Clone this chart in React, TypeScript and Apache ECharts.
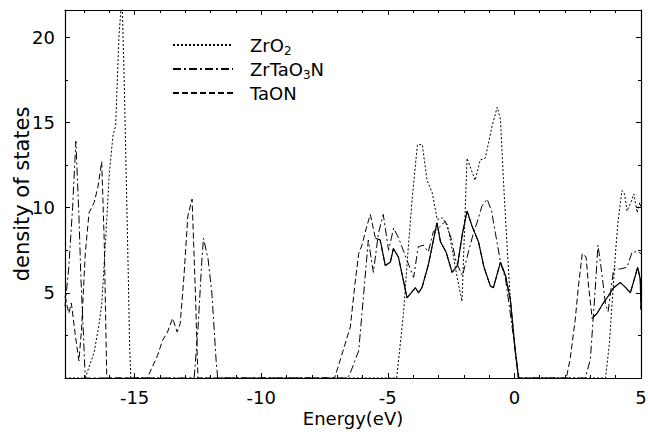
import React, { useEffect, useRef } from 'react';
import * as echarts from 'echarts';

const seriesNames = ['ZrO2', 'ZrTaO3N', 'TaON'];
const xLabelTicks = [-15, -10, -5, 0, 5];
const yLabelTicks = [5, 10, 15, 20];

// ZrO2 (dotted)
const zro2: number[][] = [
  [-17.75, 0], [-16.95, 0], [-16.6, 1.5], [-16.4, 3.2], [-16.3, 4.3], [-16.15, 8], [-16.0, 12], [-15.85, 14.3],
  [-15.75, 14.8], [-15.62, 20], [-15.5, 22.5], [-15.42, 18], [-15.32, 11], [-15.25, 6], [-15.2, 2], [-15.15, 0],
  [-4.65, 0], [-4.38, 3.8], [-4.2, 7.5], [-4.04, 10.5], [-3.83, 13.7], [-3.64, 13.7], [-3.45, 11.6], [-3.25, 10.9],
  [-3.05, 9.3], [-2.85, 9.4], [-2.65, 9.0], [-2.45, 7.5], [-2.26, 5.9], [-2.07, 4.5], [-1.87, 12.9], [-1.55, 11.6],
  [-1.35, 12.8], [-1.15, 12.9], [-0.88, 14.8], [-0.68, 15.9], [-0.55, 15.2], [-0.43, 11.5], [-0.28, 7.5],
  [-0.16, 4.6], [-0.04, 2.6], [0.16, 0],
  [3.6, 0], [3.75, 2], [3.86, 4.4], [4.0, 7.5], [4.1, 9.3], [4.25, 11.0], [4.35, 10.8], [4.45, 9.8], [4.6, 10.3],
  [4.72, 10.8], [4.85, 9.7], [4.95, 10.3], [5.0, 10.0],
];

// ZrTaO3N (dash-dot)
const zrtao3n: number[][] = [
  [-17.75, 4.2], [-17.6, 6.5], [-17.45, 10], [-17.32, 13.9], [-17.2, 9.5], [-17.12, 5.8], [-17.02, 2.5], [-16.95, 0],
  [-12.65, 0], [-12.5, 2.8], [-12.35, 6.8], [-12.28, 8.2], [-12.1, 7.0], [-11.95, 5.0], [-11.78, 1.0], [-11.72, 0],
  [-6.6, 0], [-6.48, 0.3], [-6.15, 1.6], [-5.95, 5.0], [-5.77, 8.1], [-5.57, 6.2], [-5.37, 8.5], [-5.18, 9.6],
  [-4.97, 7.5], [-4.77, 8.8], [-4.57, 8.2], [-4.24, 6.9], [-3.98, 5.9], [-3.8, 7.7], [-3.6, 7.8], [-3.4, 7.4],
  [-3.2, 8.6], [-3.0, 8.8], [-2.73, 9.2], [-2.5, 8.2], [-2.3, 6.8], [-2.05, 6.0], [-1.8, 7.5], [-1.6, 8.6],
  [-1.48, 9.1], [-1.28, 10.1], [-1.08, 10.5], [-0.9, 9.8], [-0.75, 8.5], [-0.55, 6.8], [-0.35, 5.8], [-0.2, 4.2],
  [0.0, 2.0], [0.18, 0],
  [2.8, 0], [3.0, 1.1], [3.2, 5.4], [3.3, 7.8], [3.45, 6.2], [3.6, 4.3], [3.7, 3.9], [3.92, 6.4], [4.19, 6.4],
  [4.45, 6.5], [4.65, 7.4], [4.9, 7.4], [5.0, 7.3],
];

// TaON (dashed)
const taon: number[][] = [
  [-17.75, 4.8], [-17.6, 3.8], [-17.5, 4.4], [-17.35, 2.6], [-17.2, 1.0], [-17.1, 2.8], [-16.95, 7.3], [-16.8, 9.7],
  [-16.6, 10.3], [-16.45, 11.2], [-16.3, 12.7], [-16.2, 8], [-16.1, 0],
  [-14.5, 0], [-14.1, 1.3], [-13.9, 2.2], [-13.7, 2.7], [-13.5, 3.5], [-13.32, 2.7], [-13.2, 3.2], [-13.05, 6],
  [-12.9, 9.5], [-12.73, 10.5], [-12.6, 5], [-12.5, 0],
  [-7.1, 0], [-6.88, 1.06], [-6.48, 3.0], [-6.3, 5.5], [-6.15, 7.3], [-6.02, 7.8], [-5.85, 8.8], [-5.69, 9.6],
  [-5.49, 8.2], [-5.3, 8.1], [-5.1, 6.6], [-4.9, 6.8], [-4.78, 7.6], [-4.58, 7.1], [-4.24, 4.7], [-3.91, 5.3],
  [-3.79, 5.0], [-3.65, 5.3], [-3.39, 6.7], [-3.06, 9.1], [-2.92, 8.0], [-2.7, 7.4], [-2.46, 6.2], [-2.25, 6.6],
  [-2.05, 8.5], [-1.87, 9.8], [-1.67, 8.9], [-1.42, 8.0], [-1.2, 6.5], [-0.95, 5.4], [-0.83, 5.3], [-0.55, 6.8],
  [-0.35, 6.0], [-0.16, 4.6], [0.04, 1.5], [0.16, 0],
  [2.05, 0], [2.2, 1.1], [2.4, 3.4], [2.53, 5.4], [2.68, 7.3], [2.83, 7.1], [2.93, 5.4], [3.07, 3.5], [3.27, 3.8],
  [3.47, 4.3], [3.7, 4.8], [3.92, 5.3], [4.19, 5.6], [4.4, 5.3], [4.58, 5.0], [4.87, 6.5], [4.97, 5.8], [5.0, 4.0],
];

// unlabelled solid curve (valence band and conduction band parts)
const solidValence: number[][] = [
  [-5.49, 8.2], [-5.3, 8.1], [-5.1, 6.6], [-4.9, 6.8], [-4.78, 7.6], [-4.58, 7.1], [-4.24, 4.7], [-3.91, 5.3],
  [-3.79, 5.0], [-3.65, 5.3], [-3.39, 6.7], [-3.06, 9.1], [-2.92, 8.0], [-2.7, 7.4], [-2.46, 6.2], [-2.25, 6.6],
  [-2.05, 8.5], [-1.87, 9.8], [-1.67, 8.9], [-1.42, 8.0], [-1.2, 6.5], [-0.95, 5.4], [-0.83, 5.3], [-0.55, 6.8],
  [-0.35, 6.0], [-0.16, 4.6], [0.04, 1.5], [0.16, 0],
];
const solidConduction: number[][] = [
  [3.07, 3.5], [3.27, 3.8], [3.47, 4.3], [3.7, 4.8], [3.92, 5.3], [4.19, 5.6], [4.4, 5.3], [4.58, 5.0], [4.87, 6.5],
  [4.97, 5.8], [5.0, 4.0],
];

const FONT = 'DejaVu Sans';

const legendRich: Record<string, string> = {
  ZrO2: '{b|ZrO}{s|2}',
  ZrTaO3N: '{b|ZrTaO}{s|3}{b|N}',
  TaON: '{b|TaON}',
};

export default function App() {
  const ref = useRef<HTMLDivElement>(null);
  useEffect(() => {
    document.body.style.margin = '0';
    const chart = echarts.init(ref.current!, null, { renderer: 'svg' });
    const lineBase = { type: 'line', showSymbol: false, symbol: 'none', animation: false, clip: true };
    const axisCommon = {
      axisLine: { show: true, onZero: false, lineStyle: { color: '#000', width: 1.2 } },
      axisTick: { show: true, inside: true, length: 5, lineStyle: { color: '#000' } },
      minorTick: { show: true, splitNumber: 5, length: 3, lineStyle: { color: '#000' } },
      splitLine: { show: false },
      minorSplitLine: { show: false },
    };
    chart.setOption({
      animation: false,
      backgroundColor: '#fff',
      textStyle: { fontFamily: FONT },
      grid: { left: 65, right: 7, top: 10, bottom: 58, containLabel: false, outerBoundsMode: 'none' },
      legend: {
        data: seriesNames,
        orient: 'vertical',
        left: 167,
        top: 31,
        itemWidth: 60,
        itemHeight: 10,
        itemGap: 3,
        itemStyle: { color: 'transparent', borderColor: 'transparent', borderWidth: 0, opacity: 0 },
        formatter: (n: string) => legendRich[n] || n,
        textStyle: {
          padding: [0, 0, 0, 12],
          rich: {
            b: { fontSize: 18, fontFamily: FONT, color: '#000' },
            s: { fontSize: 12, fontFamily: FONT, color: '#000', padding: [12, 0, 0, 0] },
          },
        },
      },
      xAxis: [
        {
          type: 'value',
          min: -17.75,
          max: 5,
          ...axisCommon,
          axisLabel: {
            margin: 10,
            fontSize: 18,
            color: '#000',
            fontFamily: FONT,
            formatter: (v: number) => (xLabelTicks.includes(Math.round(v * 1000) / 1000) ? String(v) : ''),
          },
          name: 'Energy(eV)',
          nameLocation: 'middle',
          nameGap: 31,
          nameMoveOverlap: false,
          nameTextStyle: { fontSize: 18, color: '#000', fontFamily: FONT },
        },
        {
          type: 'value',
          position: 'top',
          min: -17.75,
          max: 5,
          ...axisCommon,
          axisLabel: { show: false },
        },
      ],
      yAxis: [
        {
          type: 'value',
          min: 0,
          max: 21.6,
          ...axisCommon,
          minorTick: { show: true, splitNumber: 2, length: 3, lineStyle: { color: '#000' } },
          axisLabel: {
            margin: 10,
            fontSize: 18,
            color: '#000',
            fontFamily: FONT,
            formatter: (v: number) => (yLabelTicks.includes(Math.round(v * 1000) / 1000) ? String(v) : ''),
          },
          name: 'density of states',
          nameLocation: 'middle',
          nameGap: 33,
          nameMoveOverlap: false,
          nameTextStyle: { fontSize: 21, color: '#000', fontFamily: FONT },
        },
        {
          type: 'value',
          position: 'right',
          min: 0,
          max: 21.6,
          ...axisCommon,
          minorTick: { show: true, splitNumber: 2, length: 3, lineStyle: { color: '#000' } },
          axisLabel: { show: false },
        },
      ],
      series: [
        { ...lineBase, name: 'ZrO2', data: zro2, lineStyle: { color: '#000', width: 1, type: [2, 2] }, itemStyle: { color: '#000' } },
        { ...lineBase, name: 'ZrTaO3N', data: zrtao3n, lineStyle: { color: '#000', width: 1, type: [8, 3, 2, 3] }, itemStyle: { color: '#000' } },
        { ...lineBase, name: 'TaON', data: taon, lineStyle: { color: '#000', width: 1, type: [6, 3] }, itemStyle: { color: '#000' } },
        { ...lineBase, name: 'solid-vb', data: solidValence, lineStyle: { color: '#000', width: 1.2, type: 'solid' } },
        { ...lineBase, name: 'solid-cb', data: solidConduction, lineStyle: { color: '#000', width: 1.2, type: 'solid' } },
      ],
    });
    return () => chart.dispose();
  }, []);
  return <div ref={ref} style={{ width: 648, height: 436 }} />;
}
